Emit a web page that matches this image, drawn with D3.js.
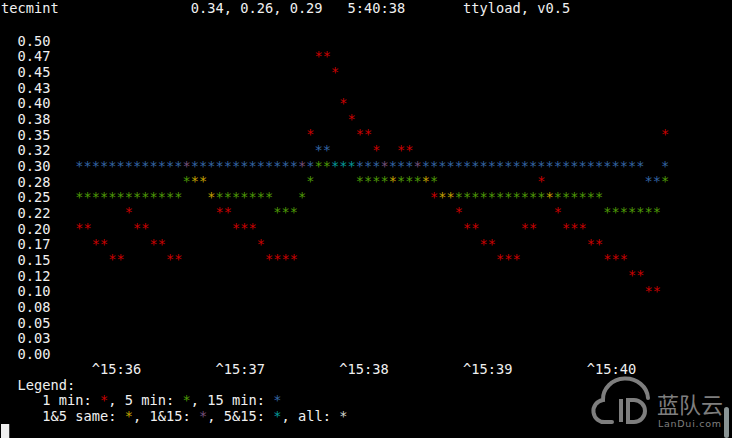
<!DOCTYPE html>
<html>
<head>
<meta charset="utf-8">
<script src="https://cdn.jsdelivr.net/npm/d3@7"></script>
<style>
  html, body { margin: 0; padding: 0; background: #000; }
  svg { display: block; }
  text { font-family: 'DejaVu Sans Mono', 'Liberation Mono', monospace; font-size: 13.7px; white-space: pre; }
</style>
</head>
<body>
<svg id="chart" width="732" height="438"></svg>
<script>
// ---------------- data ----------------
const hostName = "tecmint";
const loadNow = "0.34, 0.26, 0.29";
const clockNow = "5:40:38";
const appTitle = "ttyload, v0.5";

const yTickLabels = ["0.50","0.47","0.45","0.43","0.40","0.38","0.35","0.32","0.30","0.28",
                     "0.25","0.22","0.20","0.17","0.15","0.12","0.10","0.08","0.05","0.03","0.00"];

// one value per sample (4 s each), left to right
const oneMin = [0.20,0.20,0.175,0.175,0.15,0.15,0.225,0.20,0.20,0.175,0.175,0.15,0.15,
                0.30,0.275,0.275,0.25,0.225,0.225,0.20,0.20,0.20,0.175,0.15,0.15,0.15,0.15,
                0.30,0.35,0.475,0.475,0.45,0.40,0.375,0.35,0.35,0.325,0.30,0.275,0.325,0.325,
                0.30,0.275,0.25,0.25,0.25,0.225,0.20,0.20,0.175,0.175,0.15,0.15,0.15,
                0.20,0.20,0.275,0.25,0.225,0.20,0.20,0.20,0.175,0.175,0.15,0.15,0.15,
                0.125,0.125,0.10,0.10,0.35];
const fiveMin = [0.25,0.25,0.25,0.25,0.25,0.25,0.25,0.25,0.25,0.25,0.25,0.25,0.25,
                 0.275,0.275,0.275,0.25,0.25,0.25,0.25,0.25,0.25,0.25,0.25,
                 0.225,0.225,0.225,0.25,0.275,0.30,0.30,0.30,0.30,0.30,
                 0.275,0.275,0.275,0.275,0.275,0.275,0.275,0.275,0.275,0.275,
                 0.25,0.25,0.25,0.25,0.25,0.25,0.25,0.25,0.25,0.25,
                 0.25,0.25,0.25,0.25,0.25,0.25,0.25,0.25,0.25,0.25,
                 0.225,0.225,0.225,0.225,0.225,0.225,0.225,0.275];
const fifteenMin = [0.30,0.30,0.30,0.30,0.30,0.30,0.30,0.30,0.30,0.30,0.30,0.30,0.30,0.30,0.30,
                    0.30,0.30,0.30,0.30,0.30,0.30,0.30,0.30,0.30,0.30,0.30,0.30,0.30,0.30,
                    0.325,0.325,
                    0.30,0.30,0.30,0.30,0.30,0.30,0.30,0.30,0.30,0.30,0.30,0.30,0.30,0.30,0.30,
                    0.30,0.30,0.30,0.30,0.30,0.30,0.30,0.30,0.30,0.30,0.30,0.30,0.30,0.30,0.30,
                    0.30,0.30,0.30,0.30,0.30,0.30,0.30,0.30,
                    0.275,0.275,0.30];

const timeLabels = ["15:36","15:37","15:38","15:39","15:40"];
const timeSampleIndex = [2, 17, 32, 47, 62];

// ---------------- layout ----------------
const CW = 8.25, RH = 15.65, X0 = 1, BASE0 = 14;
const FG = "#f0f0f0";
const COLORS = { r: "#cc0000", g: "#4e9a06", b: "#3465a4", rg: "#c4a000", rb: "#75507b", gb: "#06989a", rgb: "#d3d7cf" };
const colX = c => X0 + c * CW;
const rowY = t => BASE0 + t * RH;

const svg = d3.select("#chart");
svg.append("rect").attr("width", 732).attr("height", 438).attr("fill", "#000");

function txt(c, t, s, fill) {
  return svg.append("text").attr("x", colX(c)).attr("y", t === 0 ? rowY(0) - 1.2 : rowY(t))
    .attr("fill", fill || FG).text(s);
}

// header
txt(0, 0, hostName);
txt(23, 0, loadNow);
txt(42, 0, clockNow);
txt(56, 0, appTitle);

// scales
const x = d3.scaleLinear().domain([0, 1]).range([colX(9), colX(10)]);
const y = d3.scaleLinear().domain([0.5, 0]).range([rowY(2), rowY(22)]);

// y axis
const yAxis = d3.axisLeft(y)
  .tickValues(yTickLabels.map((_, i) => 0.5 - i * 0.025))
  .tickFormat((d, i) => yTickLabels[i])
  .tickSize(0).tickPadding(0);
const gy = svg.append("g").attr("transform", `translate(${colX(6)},0)`).call(yAxis);
gy.select(".domain").remove();
gy.selectAll("text").attr("dy", 0).attr("fill", FG)
  .style("font-family", "'DejaVu Sans Mono', monospace").style("font-size", "13.7px");

// stars
const cells = [];
oneMin.forEach((v1, i) => {
  const groups = new Map();
  [["r", v1], ["g", fiveMin[i]], ["b", fifteenMin[i]]].forEach(([k, v]) => {
    const key = v.toFixed(3);
    groups.set(key, (groups.get(key) || "") + k);
  });
  groups.forEach((k, v) => cells.push({ i, v: +v, k }));
});
svg.append("g").selectAll("text").data(cells).join("text")
  .attr("x", d => x(d.i)).attr("y", d => y(d.v))
  .attr("fill", d => COLORS[d.k]).text("*");

// time axis
svg.append("g").selectAll("text").data(timeLabels).join("text")
  .attr("x", (d, i) => x(timeSampleIndex[i])).attr("y", rowY(23))
  .attr("fill", FG).text(d => "^" + d);

// legend
txt(2, 24, "Legend:");
txt(5, 25, "1 min: ");
txt(12, 25, "*", COLORS.r);
txt(13, 25, ", 5 min: ");
txt(22, 25, "*", COLORS.g);
txt(23, 25, ", 15 min: ");
txt(33, 25, "*", COLORS.b);
txt(5, 26, "1&5 same: ");
txt(15, 26, "*", COLORS.rg);
txt(16, 26, ", 1&15: ");
txt(24, 26, "*", COLORS.rb);
txt(25, 26, ", 5&15: ");
txt(33, 26, "*", COLORS.gb);
txt(34, 26, ", all: ");
txt(41, 26, "*", COLORS.rgb);

// cursor
svg.append("rect").attr("x", colX(0)).attr("y", 424).attr("width", CW).attr("height", 14).attr("fill", FG);

// watermark
const wm = svg.append("g").attr("opacity", 0.75);
wm.append("path")
  .attr("d", "M612,422 L606,422 A11,11 0 0 1 603,400 A22,20 0 0 1 648,398")
  .attr("fill", "none").attr("stroke", "#a8a8a8").attr("stroke-width", 4).attr("stroke-linecap", "round");
wm.append("path")
  .attr("d", "M621,399 L621,422")
  .attr("fill", "none").attr("stroke", "#a8a8a8").attr("stroke-width", 4);
wm.append("path")
  .attr("d", "M628,400 L634,400 A11,11 0 0 1 634,422 L628,422 Z")
  .attr("fill", "none").attr("stroke", "#a8a8a8").attr("stroke-width", 4);
wm.append("text").attr("x", 657).attr("y", 413).attr("fill", "#a8a8a8")
  .style("font-family", "'Noto Sans CJK SC', sans-serif").style("font-size", "22px").text("蓝队云");
wm.append("text").attr("x", 658).attr("y", 427).attr("fill", "#a8a8a8")
  .attr("textLength", 63).style("font-family", "'DejaVu Sans', sans-serif").style("font-size", "9.5px").text("LanDui.com");
svg.append("rect").attr("x", 724).attr("y", 407).attr("width", 5).attr("height", 31).attr("rx", 2.5).attr("fill", "#8a9494");
</script>
</body>
</html>
